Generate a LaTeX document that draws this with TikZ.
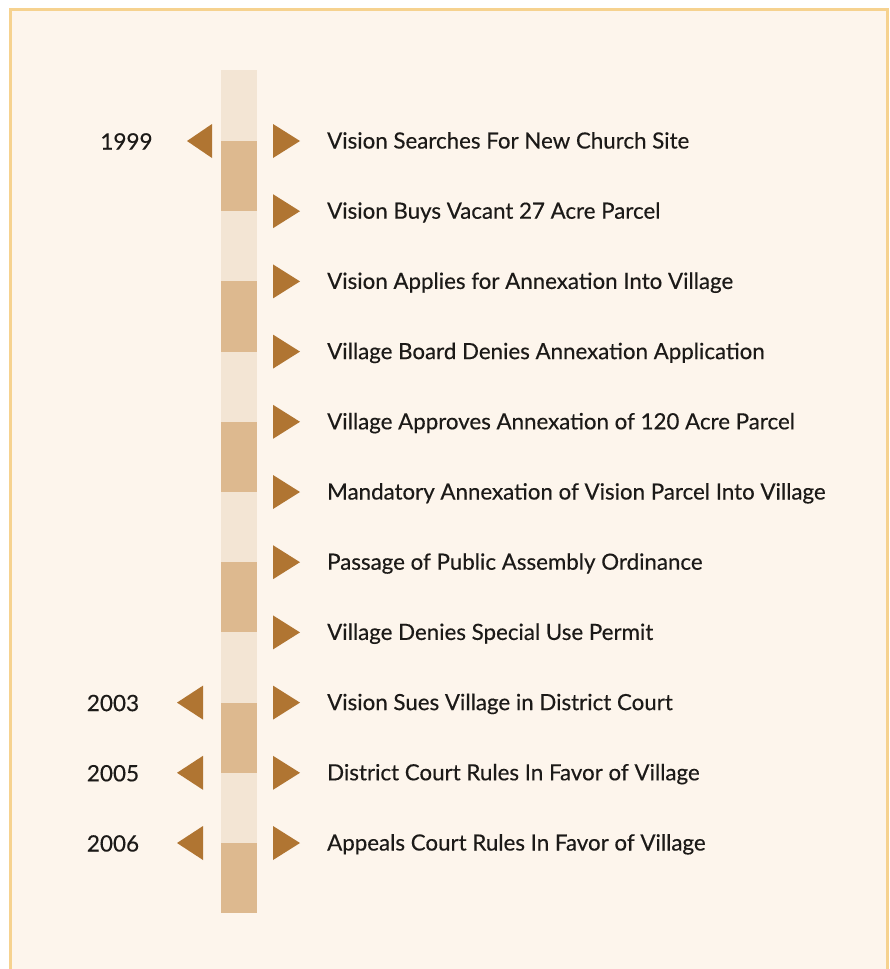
\documentclass[tikz,border=0pt]{standalone}
\usepackage{fontspec}
\setmainfont{Lato}[FakeBold=0.35]
\usetikzlibrary{positioning}
\definecolor{pageBg}{HTML}{FDF5EC}
\definecolor{frameGold}{HTML}{F6D28F}
\definecolor{barLight}{HTML}{F3E5D4}
\definecolor{barDark}{HTML}{DDB98F}
\definecolor{markBrown}{HTML}{B07532}
\definecolor{textDark}{HTML}{1C1A18}

\begin{document}
\begin{tikzpicture}[x=1pt, y=-1pt,
    event/.style={anchor=base west, inner sep=0pt, text=textDark,
      font=\fontsize{22.3}{26}\selectfont},
    year/.style={anchor=base, inner sep=0pt, text=textDark,
      font=\fontsize{22.5}{26}\selectfont},
    marker/.style={fill=markBrown}]
  \useasboundingbox (0,0) rectangle (890,969);
  \fill[white] (0,0) rectangle (890,969);
  \begin{scope}
    \clip (0,0) rectangle (890,969);
    \draw[line width=3pt, draw=frameGold, fill=pageBg] (10.5,9.5) rectangle (887,990);
  \end{scope}

  % timeline bar, light with dark blocks
  \fill[barLight] (221,70) rectangle (256.5,913);
  \foreach \a/\b in {141/211.2, 281.4/351.6, 421.8/492, 562.2/632.4, 702.6/772.8, 843/913}
    \fill[barDark] (221,\a) rectangle (256.5,\b);

  % events to the right
  \foreach \i/\txt in {0/Vision Searches For New Church Site,
      1/Vision Buys Vacant 27 Acre Parcel,
      2/Vision Applies for Annexation Into Village,
      3/Village Board Denies Annexation Application,
      4/Village Approves Annexation of 120 Acre Parcel,
      5/Mandatory Annexation of Vision Parcel Into Village,
      6/Passage of Public Assembly Ordinance,
      7/Village Denies Special Use Permit,
      8/Vision Sues Village in District Court,
      9/District Court Rules In Favor of Village,
      10/Appeals Court Rules In Favor of Village} {
    \pgfmathsetmacro\r{141+70.2*\i}
    \fill[marker] (273,\r-17) -- (273,\r+17) -- (300,\r) -- cycle;
    \node[event] (ev\i) at (327,\r+7.5) {\txt};
  }

  % years to the left
  \node[year] (y1999) at (126.5,149.5) {1999};
  \fill[marker] (212,124) -- (212,158) -- (187,141) -- cycle;
  \foreach \yr/\r in {2003/702.6, 2005/772.8, 2006/843} {
    \node[year] (y\yr) at (113,\r+8.5) {\yr};
    \fill[marker] (203,\r-17) -- (203,\r+17) -- (177,\r) -- cycle;
  }
\end{tikzpicture}
\end{document}
